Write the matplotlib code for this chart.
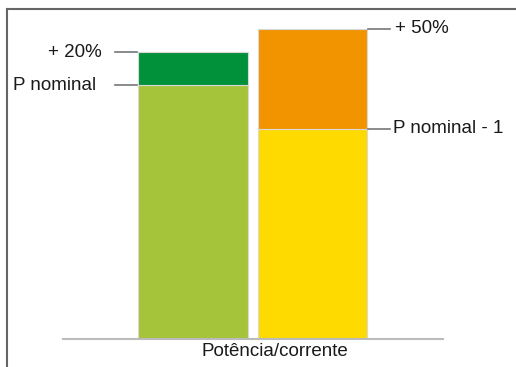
import matplotlib
matplotlib.use("Agg")
import matplotlib.pyplot as plt
from matplotlib.lines import Line2D

plt.rcParams['font.family'] = ['Liberation Sans', 'DejaVu Sans']

# Stacked columns, in % of nominal power
positions = [0, 1]
base_values = [100.0, 82.7]        # P nominal, P nominal - 1
extra_values = [13.0, 39.4]        # overload margin on top
base_colors = ["#A6C43A", "#FFDA00"]
extra_colors = ["#00913A", "#F29400"]
left_labels = ["+ 20%", "P nominal"]
right_labels = ["+ 50%", "P nominal - 1"]
xlabel = "Potência/corrente"

W, H = 516, 367
fig = plt.figure(figsize=(W / 100, H / 100), dpi=100)

ax_left, ax_right, ax_bottom = 63, 443, 339
ax = fig.add_axes([ax_left / W, (H - ax_bottom) / H,
                   (ax_right - ax_left) / W, ax_bottom / H])

bar_w = 0.92
ax.bar(positions, base_values, width=bar_w, color=base_colors,
       edgecolor="#d8d8d8", linewidth=0.8)
ax.bar(positions, extra_values, width=bar_w, bottom=base_values,
       color=extra_colors, edgecolor="#d8d8d8", linewidth=0.8)

ax.set_xlim(-1.088, 2.092)
ax.set_ylim(0, 133.5)
for s in ["top", "right", "left"]:
    ax.spines[s].set_visible(False)
ax.spines["bottom"].set_color("#bbbbbb")
ax.spines["bottom"].set_linewidth(1.5)
ax.set_xticks([])
ax.set_yticks([])

lc = "#777777"
tc = "#1a1a1a"
fs = 13.5
# leader lines and labels on the left column
x0 = positions[0] - bar_w / 2
left_y = [base_values[0] + extra_values[0], base_values[0]]
left_gap = [0.30, 0.35]
for lab, y, g in zip(left_labels, left_y, left_gap):
    ax.plot([x0 - 0.19, x0 - 0.005], [y, y], color=lc, lw=1.2, clip_on=False)
    ax.text(x0 - g, y, lab, ha="right", va="center", fontsize=fs, color=tc)

# leader lines and labels on the right column
x1 = positions[1] + bar_w / 2
right_y = [base_values[1] + extra_values[1], base_values[1]]
right_gap = [0.23, 0.21]
for lab, y, g in zip(right_labels, right_y, right_gap):
    ax.plot([x1 + 0.005, x1 + 0.19], [y, y], color=lc, lw=1.2, clip_on=False)
    ax.text(x1 + g, y, lab, ha="left", va="center", fontsize=fs, color=tc)

fig.text(274.5 / W, 1 - 352 / H, xlabel, ha="center", va="center",
         fontsize=fs, color=tc)

# outer frame (left and top edges)
fig.add_artist(Line2D([6.5 / W, 6.5 / W], [0, 1 - 8.5 / H],
                      transform=fig.transFigure, color="#666666", lw=1.5))
fig.add_artist(Line2D([6.5 / W, 1], [1 - 8.5 / H, 1 - 8.5 / H],
                      transform=fig.transFigure, color="#666666", lw=1.5))

fig.savefig("out.png", dpi=100)
